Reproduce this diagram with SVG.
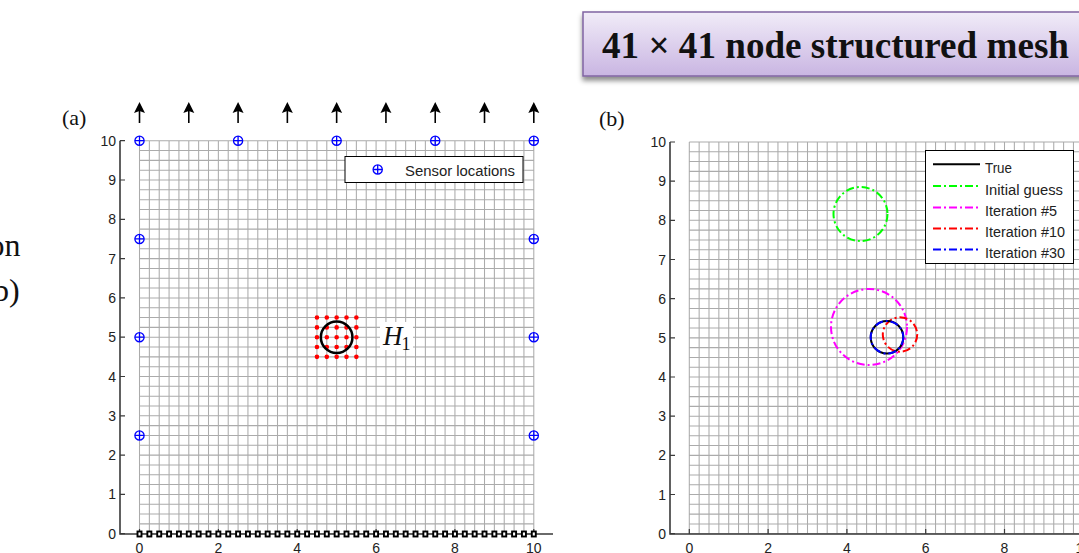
<svg xmlns="http://www.w3.org/2000/svg" xmlns:xlink="http://www.w3.org/1999/xlink" width="1079" height="553" viewBox="0 0 1079 553">
<defs>
<style>
.grid{fill:none;stroke:#ababab;stroke-width:1.05;vector-effect:non-scaling-stroke}
.axis{fill:none;stroke:#3a3a3a;stroke-width:1.6}
.tk{fill:none;stroke:#3a3a3a;stroke-width:1.2}
.tick{font-family:"Liberation Sans",Arial,sans-serif;font-size:14px;fill:#222}
.ty{text-anchor:end}
.tx{text-anchor:middle}
.lab{font-family:"Liberation Serif","Times New Roman",serif;fill:#111}
.leg{font-family:"Liberation Sans",Arial,sans-serif;font-size:15.5px;fill:#222}
.dd{fill:none;stroke-width:2;stroke-dasharray:8 3 2 3}
.sen{fill:none;stroke:#0000ff;stroke-width:1.3}
</style>
<linearGradient id="boxg" x1="0" y1="0" x2="0" y2="1"><stop offset="0" stop-color="#f1ecf8"/><stop offset="1" stop-color="#c9b5e2"/></linearGradient>
<filter id="sh" x="-5%" y="-20%" width="110%" height="160%"><feDropShadow dx="0" dy="4" stdDeviation="2.5" flood-color="#000" flood-opacity="0.45"/></filter>
<path id="gridp" class="grid" d="M0 0V10M.25 0V10M.5 0V10M.75 0V10M1 0V10M1.25 0V10M1.5 0V10M1.75 0V10M2 0V10M2.25 0V10M2.5 0V10M2.75 0V10M3 0V10M3.25 0V10M3.5 0V10M3.75 0V10M4 0V10M4.25 0V10M4.5 0V10M4.75 0V10M5 0V10M5.25 0V10M5.5 0V10M5.75 0V10M6 0V10M6.25 0V10M6.5 0V10M6.75 0V10M7 0V10M7.25 0V10M7.5 0V10M7.75 0V10M8 0V10M8.25 0V10M8.5 0V10M8.75 0V10M9 0V10M9.25 0V10M9.5 0V10M9.75 0V10M10 0V10M0 0H10M0 .25H10M0 .5H10M0 .75H10M0 1H10M0 1.25H10M0 1.5H10M0 1.75H10M0 2H10M0 2.25H10M0 2.5H10M0 2.75H10M0 3H10M0 3.25H10M0 3.5H10M0 3.75H10M0 4H10M0 4.25H10M0 4.5H10M0 4.75H10M0 5H10M0 5.25H10M0 5.5H10M0 5.75H10M0 6H10M0 6.25H10M0 6.5H10M0 6.75H10M0 7H10M0 7.25H10M0 7.5H10M0 7.75H10M0 8H10M0 8.25H10M0 8.5H10M0 8.75H10M0 9H10M0 9.25H10M0 9.5H10M0 9.75H10M0 10H10"/>
<g id="sensor"><circle r="4.6" class="sen"/><path d="M-4.6 0H4.6M0 -4.6V4.6" class="sen"/></g>
<g id="arrow"><path d="M0 8V21" stroke="#000" stroke-width="1.6"/><path d="M0 0L-5.5 11L0 9L5.5 11Z" fill="#000"/></g>
<marker id="sq" markerWidth="8" markerHeight="8" refX="4" refY="4" markerUnits="userSpaceOnUse" overflow="visible"><rect x="2" y="1.5" width="4" height="5" fill="#fff" stroke="#000" stroke-width="1.9"/></marker>
</defs>
<rect width="1079" height="553" fill="#fff"/>

<g id="left-text">
<text class="lab" x="-11.4" y="256" font-size="32">on</text>
<text class="lab" x="-7" y="301" font-size="32">b)</text>
</g>

<g id="title-box">
<rect x="583" y="12" width="510" height="64" fill="url(#boxg)" stroke="#8064a2" stroke-width="1.5" filter="url(#sh)"/>
<text class="lab" x="602" y="58.3" font-size="38" font-weight="bold" fill="#000" textLength="467" lengthAdjust="spacingAndGlyphs">41 × 41 node structured mesh</text>
</g>

<g id="plot-a">
<text class="lab" x="62" y="124.5" font-size="22">(a)</text>
<use xlink:href="#gridp" transform="matrix(39.43 0 0 -39.3 139.5 533.7)"/>
<path class="axis" d="M120 140.7V534H553"/>
<path class="tk" d="M120 533.7H125M120 494.4H125M120 455.1H125M120 415.8H125M120 376.5H125M120 337.2H125M120 297.9H125M120 258.6H125M120 219.3H125M120 180H125M120 140.7H125M139.5 534V529M218.4 534V529M297.2 534V529M376.1 534V529M454.9 534V529M533.8 534V529"/>
<g class="tick ty">
<text x="116" y="538.7">0</text><text x="116" y="499.4">1</text><text x="116" y="460.1">2</text><text x="116" y="420.8">3</text><text x="116" y="381.5">4</text><text x="116" y="342.2">5</text><text x="116" y="302.9">6</text><text x="116" y="263.6">7</text><text x="116" y="224.3">8</text><text x="116" y="185">9</text><text x="116" y="145.7">10</text>
</g>
<g class="tick tx">
<text x="139.5" y="552.5">0</text><text x="218.4" y="552.5">2</text><text x="297.2" y="552.5">4</text><text x="376.1" y="552.5">6</text><text x="454.9" y="552.5">8</text><text x="533.8" y="552.5">10</text>
</g>
<polyline id="bottom-nodes" fill="none" stroke="none" marker-start="url(#sq)" marker-mid="url(#sq)" marker-end="url(#sq)" points="139.5,534 149.36,534 159.22,534 169.07,534 178.93,534 188.79,534 198.65,534 208.5,534 218.36,534 228.22,534 238.08,534 247.93,534 257.79,534 267.65,534 277.51,534 287.36,534 297.22,534 307.08,534 316.94,534 326.79,534 336.65,534 346.51,534 356.37,534 366.22,534 376.08,534 385.94,534 395.8,534 405.65,534 415.51,534 425.37,534 435.23,534 445.08,534 454.94,534 464.8,534 474.66,534 484.51,534 494.37,534 504.23,534 514.09,534 523.94,534 533.8,534"/>
<g id="flux-arrows">
<use xlink:href="#arrow" x="139.5" y="102"/><use xlink:href="#arrow" x="188.79" y="102"/><use xlink:href="#arrow" x="238.08" y="102"/><use xlink:href="#arrow" x="287.36" y="102"/><use xlink:href="#arrow" x="336.65" y="102"/><use xlink:href="#arrow" x="385.94" y="102"/><use xlink:href="#arrow" x="435.23" y="102"/><use xlink:href="#arrow" x="484.51" y="102"/><use xlink:href="#arrow" x="533.8" y="102"/>
</g>
<g id="sensors">
<use xlink:href="#sensor" x="139.5" y="140.7"/><use xlink:href="#sensor" x="238.08" y="140.7"/><use xlink:href="#sensor" x="336.65" y="140.7"/><use xlink:href="#sensor" x="435.23" y="140.7"/><use xlink:href="#sensor" x="533.8" y="140.7"/>
<use xlink:href="#sensor" x="139.5" y="238.95"/><use xlink:href="#sensor" x="533.8" y="238.95"/>
<use xlink:href="#sensor" x="139.5" y="337.2"/><use xlink:href="#sensor" x="533.8" y="337.2"/>
<use xlink:href="#sensor" x="139.5" y="435.45"/><use xlink:href="#sensor" x="533.8" y="435.45"/>
</g>
<g id="heat-source">
<path fill="none" stroke="#ff0000" stroke-width="4.6" stroke-linecap="round" d="M316.94 317.55h0M326.79 317.55h0M336.65 317.55h0M346.51 317.55h0M356.37 317.55h0M316.94 327.38h0M326.79 327.38h0M336.65 327.38h0M346.51 327.38h0M356.37 327.38h0M316.94 337.2h0M326.79 337.2h0M336.65 337.2h0M346.51 337.2h0M356.37 337.2h0M316.94 347.03h0M326.79 347.03h0M336.65 347.03h0M346.51 347.03h0M356.37 347.03h0M316.94 356.85h0M326.79 356.85h0M336.65 356.85h0M346.51 356.85h0M356.37 356.85h0"/>
<circle cx="336.65" cy="337.2" r="15.8" fill="none" stroke="#000" stroke-width="2.5"/>
<rect x="380" y="322" width="33" height="28" fill="#fff"/>
<text class="lab" x="383" y="345" font-size="27" font-style="italic" fill="#000">H</text>
<text class="lab" x="401.5" y="350" font-size="18" fill="#000">1</text>
</g>
<g id="legend-a">
<rect x="345" y="156.5" width="178" height="26" fill="#fff" stroke="#000" stroke-width="1"/>
<use xlink:href="#sensor" x="377.7" y="169.5"/>
<text class="leg" x="405" y="175.5" font-size="16.5" textLength="110" lengthAdjust="spacingAndGlyphs">Sensor locations</text>
</g>
</g>

<g id="plot-b">
<text class="lab" x="599" y="126" font-size="22">(b)</text>
<use xlink:href="#gridp" transform="matrix(39.4 0 0 -39.17 689.3 533.7)"/>
<path class="axis" d="M670 142V534H1085"/>
<path class="tk" d="M670 533.7H675M670 494.5H675M670 455.4H675M670 416.2H675M670 377H675M670 337.9H675M670 298.7H675M670 259.5H675M670 220.4H675M670 181.2H675M670 142H675M689.3 534V529M768.1 534V529M846.9 534V529M925.7 534V529M1004.5 534V529"/>
<g class="tick ty">
<text x="666" y="538.7">0</text><text x="666" y="499.5">1</text><text x="666" y="460.4">2</text><text x="666" y="421.2">3</text><text x="666" y="382">4</text><text x="666" y="342.9">5</text><text x="666" y="303.7">6</text><text x="666" y="264.5">7</text><text x="666" y="225.4">8</text><text x="666" y="186.2">9</text><text x="666" y="147">10</text>
</g>
<g class="tick tx">
<text x="689.3" y="552.5">0</text><text x="768.1" y="552.5">2</text><text x="846.9" y="552.5">4</text><text x="925.7" y="552.5">6</text><text x="1004.5" y="552.5">8</text><text x="1083.3" y="552.5">10</text>
</g>
<g id="estimates">
<circle cx="860.5" cy="214" r="27" class="dd" stroke="#00ff00"/>
<circle cx="869" cy="327" r="38" class="dd" stroke="#ff00ff"/>
<circle cx="900" cy="334.5" r="17.2" class="dd" stroke="#ff0000"/>
<circle cx="887" cy="337.3" r="16.3" fill="none" stroke="#000" stroke-width="2"/>
<circle cx="887" cy="337.3" r="16.3" class="dd" stroke="#0000ff"/>
</g>
<g id="legend-b">
<rect x="925.5" y="150.5" width="148" height="113" fill="#fff" stroke="#000" stroke-width="1"/>
<line x1="933" y1="164.3" x2="980" y2="164.3" stroke="#000" stroke-width="2"/>
<line x1="933" y1="186" x2="980" y2="186" class="dd" stroke="#00ff00"/>
<line x1="933" y1="207.5" x2="980" y2="207.5" class="dd" stroke="#ff00ff"/>
<line x1="933" y1="228.5" x2="980" y2="228.5" class="dd" stroke="#ff0000"/>
<line x1="933" y1="249.5" x2="980" y2="249.5" class="dd" stroke="#0000ff"/>
<text class="leg" x="985" y="173.3" textLength="27" lengthAdjust="spacingAndGlyphs">True</text>
<text class="leg" x="985" y="195" textLength="78" lengthAdjust="spacingAndGlyphs">Initial guess</text>
<text class="leg" x="985" y="216" textLength="72" lengthAdjust="spacingAndGlyphs">Iteration #5</text>
<text class="leg" x="985" y="237" textLength="80" lengthAdjust="spacingAndGlyphs">Iteration #10</text>
<text class="leg" x="985" y="258.3" textLength="80" lengthAdjust="spacingAndGlyphs">Iteration #30</text>
</g>
</g>
</svg>
